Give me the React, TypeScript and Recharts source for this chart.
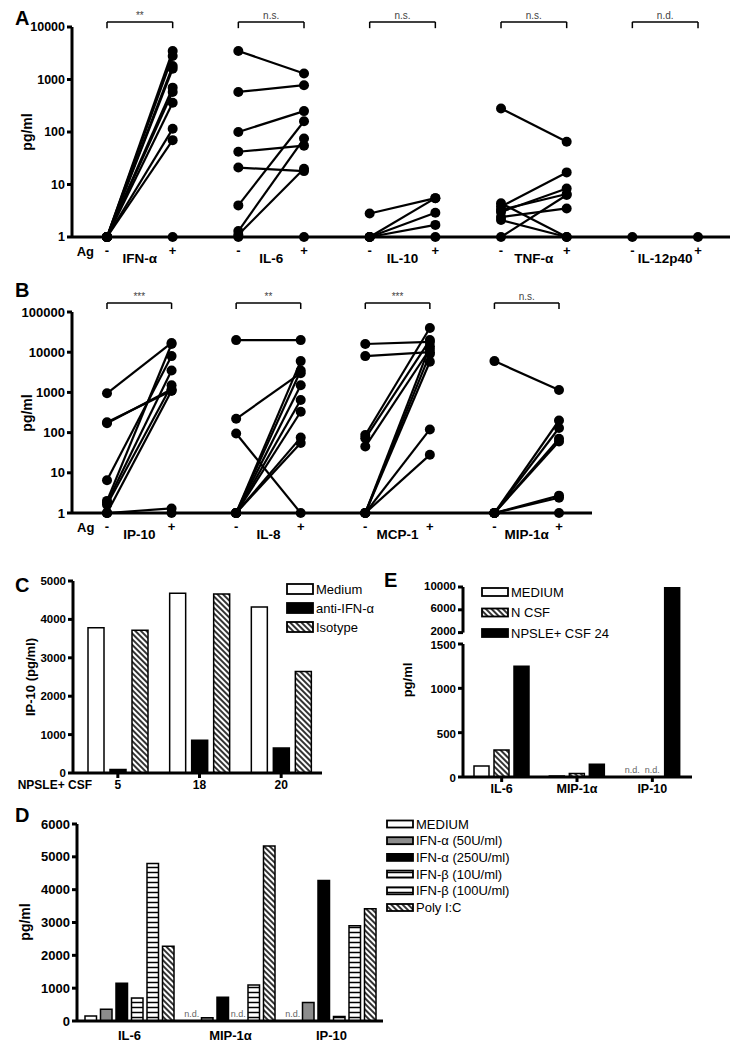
import React from 'react';
import { ScatterChart, Scatter, XAxis, YAxis, ReferenceLine, BarChart, Bar, LabelList, Cell } from 'recharts';

const FONT = '"Liberation Sans", Arial, Helvetica, sans-serif';

// ---------------- Panel A (paired, log scale) ----------------
const aNames = ['IFN-α', 'IL-6', 'IL-10', 'TNF-α', 'IL-12p40'];
const aSignif = ['**', 'n.s.', 'n.s.', 'n.s.', 'n.d.'];
const aYTicks = [1, 10, 100, 1000, 10000];
const aIfnPre = [1, 1, 1, 1, 1, 1, 1, 1, 1, 1];
const aIfnPost = [3500, 2800, 1800, 1600, 700, 580, 360, 115, 70, 1];
const aIl6Pre = [3500, 580, 100, 42, 21, 4, 1.3, 1.1, 1];
const aIl6Post = [1300, 780, 250, 55, 18, 160, 75, 20, 1];
const aIl10Pre = [2.8, 1, 1, 1, 1];
const aIl10Post = [5.5, 5.5, 2.9, 1.7, 1];
const aTnfPre = [280, 3.8, 1, 4.4, 2.1, 3.0, 2.4, 3.3];
const aTnfPost = [65, 17, 6.3, 1, 1, 8.4, 3.5, 6.6];
const aIl12Pre = [1];
const aIl12Post = [1];
const aPre = [aIfnPre, aIl6Pre, aIl10Pre, aTnfPre, aIl12Pre];
const aPost = [aIfnPost, aIl6Post, aIl10Post, aTnfPost, aIl12Post];

// ---------------- Panel B (paired, log scale) ----------------
const bNames = ['IP-10', 'IL-8', 'MCP-1', 'MIP-1α'];
const bSignif = ['***', '**', '***', 'n.s.'];
const bYTicks = [1, 10, 100, 1000, 10000, 100000];
const bIp10Pre = [950, 170, 180, 6.5, 2, 1.8, 1.6, 1, 1, 1];
const bIp10Post = [17000, 1200, 1100, 8000, 16000, 3500, 1500, 1100, 1.3, 1];
const bIl8Pre = [20000, 220, 95, 1, 1, 1, 1, 1, 1, 1];
const bIl8Post = [20000, 3000, 1, 6000, 3500, 1500, 650, 330, 75, 55];
const bMcpPre = [16000, 8000, 87, 72, 45, 1, 1, 1, 1, 1];
const bMcpPost = [18000, 10000, 40000, 20000, 12000, 14000, 5800, 9000, 120, 28];
const bMipPre = [6000, 1, 1, 1, 1, 1, 1, 1];
const bMipPost = [1150, 200, 130, 70, 60, 2.7, 2.4, 1];
const bPre = [bIp10Pre, bIl8Pre, bMcpPre, bMipPre];
const bPost = [bIp10Post, bIl8Post, bMcpPost, bMipPost];

// ---------------- Panel C ----------------
const cGroups = ['5', '18', '20'];
const cMedium = [3780, 4680, 4320];
const cAnti = [90, 850, 650];
const cIsotype = [3720, 4660, 2640];
const cTicks = [0, 1000, 2000, 3000, 4000, 5000];
const cData = cGroups.map((g, i) => ({ g, medium: cMedium[i], anti: cAnti[i], iso: cIsotype[i] }));

// ---------------- Panel E ----------------
const eCats = ['IL-6', 'MIP-1α', 'IP-10'];
const eMedium = [125, 10, 0];
const eNCsf = [305, 40, 0];
const eNpsle = [1250, 145, 10000];
const eMediumLabel = ['', '', 'n.d.'];
const eNCsfLabel = ['', '', 'n.d.'];
const eLowTicks = [0, 500, 1000, 1500];
const eHighTicks = [2000, 6000, 10000];
const eBreak = 1500;
const eData = eCats.map((c, i) => ({
  c,
  medium: eMedium[i],
  ncsf: eNCsf[i],
  npsle: eNpsle[i],
  mediumHi: eMedium[i] > eBreak ? eMedium[i] : null,
  ncsfHi: eNCsf[i] > eBreak ? eNCsf[i] : null,
  npsleHi: eNpsle[i] > eBreak ? eNpsle[i] : null,
  mediumNd: eMediumLabel[i],
  ncsfNd: eNCsfLabel[i],
}));

// ---------------- Panel D ----------------
const dCats = ['IL-6', 'MIP-1α', 'IP-10'];
const dMedium = [150, 0, 0];
const dIfnA50 = [360, 100, 560];
const dIfnA250 = [1150, 720, 4280];
const dIfnB10 = [700, 0, 140];
const dIfnB100 = [4800, 1100, 2900];
const dPolyIC = [2280, 5330, 3420];
const dMediumLabel = ['', 'n.d.', 'n.d.'];
const dB10Label = ['', 'n.d.', ''];
const dTicks = [0, 1000, 2000, 3000, 4000, 5000, 6000];
const dData = dCats.map((c, i) => ({
  c,
  medium: dMedium[i],
  a50: dIfnA50[i],
  a250: dIfnA250[i],
  b10: dIfnB10[i],
  b100: dIfnB100[i],
  poly: dPolyIC[i],
  mediumNd: dMediumLabel[i],
  b10Nd: dB10Label[i],
}));

const cLegend = [
  { label: 'Medium', fill: '#fff' },
  { label: 'anti-IFN-α', fill: '#000' },
  { label: 'Isotype', fill: 'url(#ovHatch)' },
];
const eLegend = [
  { label: 'MEDIUM', fill: '#fff' },
  { label: 'N CSF', fill: 'url(#ovHatch)' },
  { label: 'NPSLE+ CSF 24', fill: '#000' },
];
const dLegend = [
  { label: 'MEDIUM', fill: '#fff' },
  { label: 'IFN-α (50U/ml)', fill: '#8c8c8c' },
  { label: 'IFN-α (250U/ml)', fill: '#000' },
  { label: 'IFN-β (10U/ml)', fill: 'url(#ovStripe)' },
  { label: 'IFN-β (100U/ml)', fill: 'url(#ovStripe)' },
  { label: 'Poly I:C', fill: 'url(#ovHatch)' },
];

const AX = { stroke: '#000', strokeWidth: 3 };
const boldTick = (size: number) => ({ fontSize: size, fontWeight: 'bold', fill: '#000', fontFamily: FONT });

const yTick = (size: number, shift: number) => (props: any) => (
  <text x={props.x} y={props.y + shift} textAnchor="end" dominantBaseline="central"
    fontSize={size} fontWeight="bold" fontFamily={FONT} fill="#000">{props.payload.value}</text>
);

const Dot = (p: any) => <circle cx={p.cx} cy={p.cy} r={5} fill="#000" />;

type PP = {
  top: number; height: number; mTop: number; mBottom: number; plotRight: number;
  names: string[]; signif: string[]; pre: number[][]; post: number[][];
  yTicks: number[]; domainX: [number, number]; bracketHi: number; bracketLo: number;
  tickFont: number;
};

function makePairTick(names: string[]) {
  return (props: any) => {
    const { x, y, payload } = props;
    const v = payload.value as number;
    let t = '';
    let shift = 0;
    let size = 13;
    if (v < 0) { t = 'Ag'; }
    else if (Math.abs(v - Math.round(v)) < 1e-6) { t = Math.round(v) % 2 === 0 ? '-' : '+'; shift = -1; }
    else { t = names[Math.round((v - 0.5) / 2)]; shift = 6; size = 13.5; }
    return (
      <text x={x} y={y + shift} dy="0.71em" textAnchor="middle" fontSize={size} fontWeight="bold" fontFamily={FONT} fill="#000">{t}</text>
    );
  };
}

function PairedPanel(p: PP) {
  const n = p.names.length;
  const xTicks: number[] = [-0.33];
  for (let i = 0; i < 2 * n; i++) { xTicks.push(i); if (i % 2 === 0) xTicks.push(i + 0.5); }
  const series: { key: string; data: { x: number; y: number }[] }[] = [];
  p.pre.forEach((pre, c) =>
    pre.forEach((v, j) =>
      series.push({ key: `${c}-${j}`, data: [{ x: 2 * c, y: v }, { x: 2 * c + 1, y: p.post[c][j] }] })
    )
  );
  return (
    <div style={{ position: 'absolute', left: 0, top: p.top }}>
      <ScatterChart width={738} height={p.height} margin={{ top: p.mTop, right: 738 - p.plotRight, bottom: p.mBottom, left: 10 }}>
        <XAxis xAxisId="pm" dataKey="x" type="number" domain={p.domainX} ticks={xTicks} interval={0}
          axisLine={AX} tickLine={false} tickSize={4} tickMargin={6} tick={makePairTick(p.names)} height={28} />
        <YAxis yAxisId="y" dataKey="y" type="number" scale="log" domain={[1, p.yTicks[p.yTicks.length - 1]]}
          ticks={p.yTicks} interval={0} width={62} axisLine={AX} tickLine={AX} tickSize={5} tickMargin={2}
          tick={boldTick(p.tickFont)} />
        {series.map((s) => (
          <Scatter key={s.key} xAxisId="pm" yAxisId="y" data={s.data} fill="#000"
            line={{ stroke: '#000', strokeWidth: 2.2 }} shape={Dot} isAnimationActive={false} />
        ))}
        {p.names.map((nm, c) => (
          <ReferenceLine key={`bh${c}`} xAxisId="pm" yAxisId="y" ifOverflow="visible" stroke="#000" strokeWidth={1.5}
            segment={[{ x: 2 * c, y: p.bracketHi }, { x: 2 * c + 1, y: p.bracketHi }]}
            label={{ value: p.signif[c], position: 'top', fill: '#444', fontSize: 10, fontFamily: FONT, offset: 3 }} />
        ))}
        {p.names.map((nm, c) => (
          <ReferenceLine key={`bl${c}`} xAxisId="pm" yAxisId="y" ifOverflow="visible" stroke="#000" strokeWidth={1.5}
            segment={[{ x: 2 * c, y: p.bracketHi }, { x: 2 * c, y: p.bracketLo }]} />
        ))}
        {p.names.map((nm, c) => (
          <ReferenceLine key={`br${c}`} xAxisId="pm" yAxisId="y" ifOverflow="visible" stroke="#000" strokeWidth={1.5}
            segment={[{ x: 2 * c + 1, y: p.bracketHi }, { x: 2 * c + 1, y: p.bracketLo }]} />
        ))}
      </ScatterChart>
    </div>
  );
}

const Patterns = ({ id }: { id: string }) => (
  <defs>
    <pattern id={`${id}Hatch`} width="4" height="4" patternUnits="userSpaceOnUse" patternTransform="rotate(-45)">
      <rect width="4" height="4" fill="#fff" />
      <line x1="1" y1="0" x2="1" y2="4" stroke="#000" strokeWidth="1.6" />
    </pattern>
    <pattern id={`${id}Stripe`} width="5" height="5" patternUnits="userSpaceOnUse">
      <rect width="5" height="5" fill="#fff" />
      <line x1="0" y1="2.5" x2="5" y2="2.5" stroke="#000" strokeWidth="1.5" />
    </pattern>
  </defs>
);

function LegendBlock({ x, y0, dy, w, h, items, fontSize }: any) {
  return (
    <g>
      {items.map((it: any, i: number) => {
        const cy = y0 + i * dy;
        return (
          <g key={i}>
            <rect x={x} y={cy - h / 2} width={w} height={h} fill={it.fill} stroke="#000" strokeWidth={1.8} />
            <text x={x + w + 3} y={cy} dominantBaseline="central" fontSize={fontSize} fontFamily={FONT} fill="#000">{it.label}</text>
          </g>
        );
      })}
    </g>
  );
}

const RotLabel = ({ x, y, text, size }: any) => (
  <text transform={`translate(${x},${y}) rotate(-90)`} textAnchor="middle" dominantBaseline="central"
    fontSize={size} fontWeight="bold" fontFamily={FONT} fill="#000">{text}</text>
);

const Letter = ({ x, y, t }: any) => (
  <text x={x} y={y} fontSize={20} fontWeight="bold" fontFamily={FONT} fill="#000">{t}</text>
);

const ndCells = (labels: string[], fill: string) =>
  labels.map((l, i) => <Cell key={i} fill={l ? 'none' : fill} stroke={l ? 'none' : '#000'} />);

export default function App() {
  const barStroke = { stroke: '#000', strokeWidth: 1.5 };
  const ndLabel = { fill: '#666', fontSize: 9, fontFamily: FONT };
  return (
    <div style={{ position: 'absolute', left: 0, top: 0, width: 738, height: 1050, background: '#fff', fontFamily: FONT }}>
      <PairedPanel top={0} height={269} mTop={27} mBottom={4} plotRight={730}
        names={aNames} signif={aSignif} pre={aPre} post={aPost} yTicks={aYTicks}
        domainX={[-0.533, 9.487]} bracketHi={12500} bracketLo={9500} tickFont={12.5} />
      <PairedPanel top={270} height={275} mTop={42} mBottom={4} plotRight={592}
        names={bNames} signif={bSignif} pre={bPre} post={bPost} yTicks={bYTicks}
        domainX={[-0.542, 7.511]} bracketHi={167000} bracketLo={119000} tickFont={13} />

      {/* Panel C */}
      <div style={{ position: 'absolute', left: 0, top: 565 }}>
        <BarChart width={340} height={235} data={cData} margin={{ top: 16, right: 18, bottom: 3, left: 10 }} barSize={16} barGap={6}>
          <Patterns id="c" />
          <XAxis dataKey="g" padding={{ left: 4, right: 0 }} axisLine={AX} tickLine={AX} tickSize={5} tick={boldTick(12)} height={24}
            label={{ value: 'NPSLE+ CSF', position: 'left', offset: -19, fontSize: 12, fontWeight: 'bold', fill: '#000', fontFamily: FONT }} />
          <YAxis domain={[0, 5000]} ticks={cTicks} interval={0} width={63} axisLine={AX} tickLine={AX} tickSize={5} tickMargin={2} tick={boldTick(11.5)} />
          <Bar dataKey="medium" fill="#fff" {...barStroke} isAnimationActive={false} />
          <Bar dataKey="anti" fill="#000" {...barStroke} isAnimationActive={false} />
          <Bar dataKey="iso" fill="url(#cHatch)" {...barStroke} isAnimationActive={false} />
        </BarChart>
      </div>

      {/* Panel E upper segment */}
      <div style={{ position: 'absolute', left: 380, top: 575 }}>
        <BarChart width={320} height={69} data={eData} margin={{ top: 12, right: 8, bottom: 0, left: 10 }} barSize={15} barGap={5}>
          <XAxis dataKey="c" hide padding={{ left: 1, right: 2 }} />
          <XAxis xAxisId="ln" type="number" domain={[0, 1]} hide />
          <YAxis domain={[0, 10000]} ticks={eHighTicks} interval={0} allowDataOverflow width={73} axisLine={false}
            tickLine={AX} tickSize={5} tickMargin={2} tick={yTick(11.5, -1.5)} />
          <ReferenceLine xAxisId="ln" ifOverflow="visible" stroke="#000" strokeWidth={3}
            segment={[{ x: 0, y: eHighTicks[0] }, { x: 0, y: eHighTicks[eHighTicks.length - 1] }]} />
          <Bar dataKey="mediumHi" fill="#fff" {...barStroke} isAnimationActive={false} />
          <Bar dataKey="ncsfHi" fill="url(#eHatch)" {...barStroke} isAnimationActive={false} />
          <Bar dataKey="npsleHi" fill="#000" {...barStroke} isAnimationActive={false} />
        </BarChart>
      </div>

      {/* Panel E lower segment */}
      <div style={{ position: 'absolute', left: 380, top: 631 }}>
        <BarChart width={320} height={174} data={eData} margin={{ top: 13, right: 8, bottom: 3, left: 10 }} barSize={15} barGap={5}>
          <Patterns id="e" />
          <XAxis dataKey="c" padding={{ left: 1, right: 2 }} axisLine={AX} tickLine={AX} tickSize={5} tick={boldTick(12.5)} height={25} />
          <YAxis domain={[0, 1500]} ticks={eLowTicks} interval={0} allowDataOverflow width={73} axisLine={AX}
            tickLine={AX} tickSize={5} tickMargin={2} tick={yTick(11.5, 1)} />
          <Bar dataKey="medium" fill="#fff" {...barStroke} minPointSize={1} isAnimationActive={false}>
            {ndCells(eMediumLabel, '#fff')}
            <LabelList dataKey="mediumNd" position="top" offset={3} {...ndLabel} />
          </Bar>
          <Bar dataKey="ncsf" fill="url(#eHatch)" {...barStroke} minPointSize={1} isAnimationActive={false}>
            {ndCells(eNCsfLabel, 'url(#eHatch)')}
            <LabelList dataKey="ncsfNd" position="top" offset={3} {...ndLabel} />
          </Bar>
          <Bar dataKey="npsle" fill="#000" {...barStroke} isAnimationActive={false} />
        </BarChart>
      </div>

      {/* Panel D */}
      <div style={{ position: 'absolute', left: 0, top: 810 }}>
        <BarChart width={395} height={240} data={dData} margin={{ top: 14, right: 12, bottom: 3, left: 10 }} barSize={11.5} barGap={4}>
          <Patterns id="d" />
          <XAxis dataKey="c" padding={{ left: 2, right: 1 }} axisLine={AX} tickLine={false} tickSize={8} tick={boldTick(13)} height={26} />
          <YAxis domain={[0, 6000]} ticks={dTicks} interval={0} width={67} axisLine={AX} tickLine={AX} tickSize={5} tickMargin={2} tick={boldTick(13)} />
          <Bar dataKey="medium" fill="#fff" {...barStroke} minPointSize={1} isAnimationActive={false}>
            {ndCells(dMediumLabel, '#fff')}
            <LabelList dataKey="mediumNd" position="top" offset={3} {...ndLabel} />
          </Bar>
          <Bar dataKey="a50" fill="#8c8c8c" {...barStroke} isAnimationActive={false} />
          <Bar dataKey="a250" fill="#000" {...barStroke} isAnimationActive={false} />
          <Bar dataKey="b10" fill="url(#dStripe)" {...barStroke} minPointSize={1} isAnimationActive={false}>
            {ndCells(dB10Label, 'url(#dStripe)')}
            <LabelList dataKey="b10Nd" position="top" offset={3} {...ndLabel} />
          </Bar>
          <Bar dataKey="b100" fill="url(#dStripe)" {...barStroke} isAnimationActive={false} />
          <Bar dataKey="poly" fill="url(#dHatch)" {...barStroke} isAnimationActive={false} />
        </BarChart>
      </div>

      {/* Overlay: panel letters, axis titles, legends */}
      <svg width={738} height={1050} style={{ position: 'absolute', left: 0, top: 0, pointerEvents: 'none' }}>
        <Patterns id="ov" />
        <Letter x={15} y={25} t="A" />
        <Letter x={15} y={297} t="B" />
        <Letter x={15} y={592} t="C" />
        <Letter x={15} y={822} t="D" />
        <Letter x={384} y={587} t="E" />
        <RotLabel x={27} y={132} text="pg/ml" size={14} />
        <RotLabel x={27} y={413} text="pg/ml" size={14} />
        <RotLabel x={30} y={677} text="IP-10 (pg/ml)" size={13} />
        <RotLabel x={407} y={680} text="pg/ml" size={13} />
        <RotLabel x={25} y={922} text="pg/ml" size={14} />
        <LegendBlock x={287} y0={589} dy={19} w={26} h={10} items={cLegend} fontSize={13} />
        <LegendBlock x={482} y0={592} dy={20.5} w={26} h={8} items={eLegend} fontSize={13} />
        <LegendBlock x={387} y0={824} dy={16.7} w={26} h={7} items={dLegend} fontSize={13} />
      </svg>
    </div>
  );
}
